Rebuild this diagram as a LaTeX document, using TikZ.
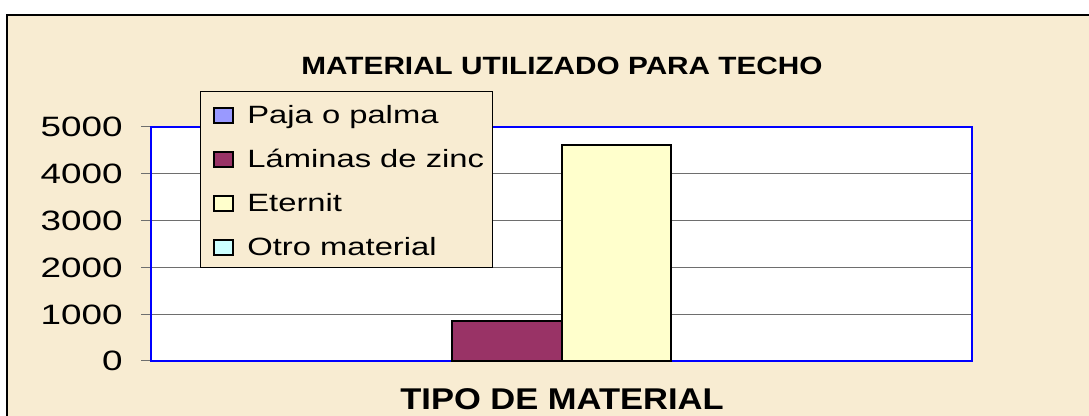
\documentclass[tikz,border=0pt]{standalone}
\usepackage{fontspec}
\setmainfont{Liberation Sans}
\newfontfamily\titfont[FakeStretch=1.19]{Liberation Sans}
\newfontfamily\legfont[FakeStretch=1.31]{Liberation Sans}
\newfontfamily\ejefont[FakeStretch=1.315]{Liberation Sans}
\newfontfamily\xfont[FakeStretch=1.15]{Liberation Sans}
\definecolor{fondo}{RGB}{248,236,210}
\definecolor{rejilla}{RGB}{110,110,110}
\definecolor{paja}{RGB}{153,153,255}
\definecolor{zinc}{RGB}{153,51,102}
\definecolor{eternit}{RGB}{255,255,204}
\definecolor{otro}{RGB}{204,255,255}

\begin{document}
\begin{tikzpicture}[x=0.5pt,y=-0.5pt]
\useasboundingbox (0,0) rectangle (1089,416);
\fill [white] (0,0) rectangle (1089,416);
\fill [fondo] (7,15) rectangle (1089,416);
\draw [line width=0.75pt] (7,416)--(7,15)--(1089,15);
\node [anchor=base] (titulo) at (562,75) {\fontsize{12.5}{14}\bfseries\titfont MATERIAL UTILIZADO PARA TECHO};
\fill [white] (151,127) rectangle (972,361);
\foreach \k/\v in {0/0,1/1000,2/2000,3/3000,4/4000,5/5000}{
  \draw [rejilla,line width=0.5pt] (141,{361-46.8*\k})--(972,{361-46.8*\k});
  \node [anchor=base east,inner sep=0pt] (y\k) at (123,{361-46.8*\k+10}) {\fontsize{14}{16}\ejefont\v};
}
\draw [blue,line width=1pt] (151,127) rectangle (972,361);
\draw [fill=zinc,line width=1pt] (452,361) rectangle (562,321);
\draw [fill=eternit,line width=1pt] (562,361) rectangle (671,145);
\draw [fill=fondo,line width=0.5pt] (200,92) rectangle (492,268);
\foreach \n/\c/\t in {0/paja/Paja o palma,1/zinc/Láminas de zinc,2/eternit/Eternit,3/otro/Otro material}{
  \draw [fill=\c,line width=0.75pt] (214,{108+44*\n}) rectangle (233,{123+44*\n});
  \node [anchor=base west,inner sep=0pt] (ley\n) at (247,{124+44*\n}) {\fontsize{12.5}{14}\legfont\t};
}
\node [anchor=base] (xlabel) at (562,410) {\fontsize{15}{17}\bfseries\xfont TIPO DE MATERIAL};
\end{tikzpicture}
\end{document}
